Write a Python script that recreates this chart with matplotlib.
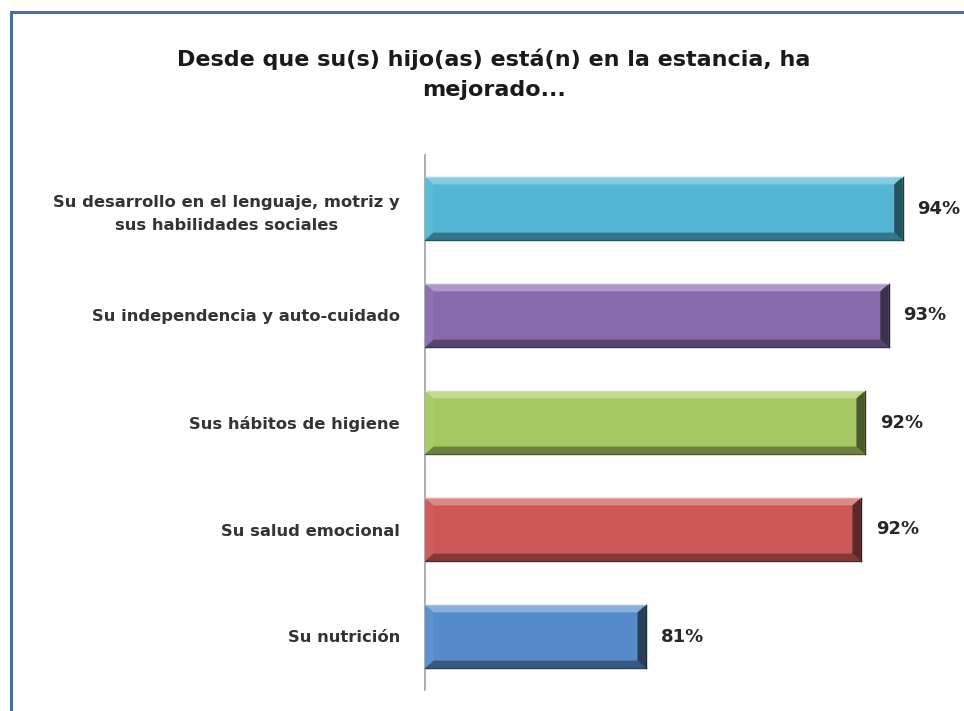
"""
Horizontal bar chart: improvements since the child entered the estancia.
"""
import numpy as np
import matplotlib.pyplot as plt
from matplotlib.patches import Polygon, Rectangle
from matplotlib.colors import to_rgb

plt.rcParams['font.family'] = ['DejaVu Sans']

# data
categories = ['Su desarrollo en el lenguaje, motriz y\nsus habilidades sociales',
              'Su independencia y auto-cuidado',
              'Sus hábitos de higiene',
              'Su salud emocional',
              'Su nutrición']
values = [94.0, 93.3, 92.1, 91.9, 81.1]
labels = ['94%', '93%', '92%', '92%', '81%']
colors = ['#52B6D4', '#886AAC', '#A6C862', '#CD5656', '#558BCB']

title = 'Desde que su(s) hijo(as) está(n) en la estancia, ha\nmejorado...'

W, H = 964, 711
fig = plt.figure(figsize=(W / 100, H / 100), dpi=100)

# outer frame (cut off on the right and bottom)
fig.patches.append(Rectangle((11 / W, -0.05), 1.1, (H - 12) / H + 0.05,
                             transform=fig.transFigure, fill=False,
                             edgecolor='#4A6EA3', linewidth=2.2))

ax = fig.add_axes([425 / W, 21 / H, (W - 425) / W, 535 / H])

xmin, xmax = 70, 70 + (W - 425) / 19.9
y = np.arange(len(categories))
bar_h = 0.59


def shade(c, f):
    r, g, b = to_rgb(c)
    if f > 1:
        return tuple(min(1, v + (1 - v) * (f - 1)) for v in (r, g, b))
    return tuple(v * f for v in (r, g, b))


bars = ax.barh(y, [v - xmin for v in values], left=xmin, height=bar_h,
               color=colors, edgecolor='none', zorder=2)

# bevel edges
bx = 0.42
by = 0.07
for i, (v, c) in enumerate(zip(values, colors)):
    x0, x1 = xmin, v
    y0, y1 = i + bar_h / 2, i - bar_h / 2  # y0 bottom (inverted), y1 top
    top = [(x0, y1), (x1, y1), (x1 - bx, y1 + by), (x0 + bx, y1 + by)]
    bot = [(x0, y0), (x1, y0), (x1 - bx, y0 - by), (x0 + bx, y0 - by)]
    right = [(x1, y1), (x1, y0), (x1 - bx, y0 - by), (x1 - bx, y1 + by)]
    left = [(x0, y1), (x0, y0), (x0 + bx, y0 - by), (x0 + bx, y1 + by)]
    ax.add_patch(Polygon(top, closed=True, color=shade(c, 1.3), lw=0, zorder=3))
    ax.add_patch(Polygon(bot, closed=True, color=shade(c, 0.65), lw=0, zorder=3))
    ax.add_patch(Polygon(right, closed=True, color=shade(c, 0.45), lw=0, zorder=4))
    ax.add_patch(Polygon(left, closed=True, color=shade(c, 1.05), lw=0, zorder=3))
    ax.plot([x0, x1], [y1, y1], color=shade(c, 1.45), lw=1, zorder=5)
    ax.plot([x0, x1], [y0, y0], color=shade(c, 0.45), lw=1, zorder=5)
    ax.plot([x1, x1], [y1, y0], color=shade(c, 0.3), lw=1, zorder=5)
    ax.text(v + 0.75, i, labels[i], va='center', ha='left', fontsize=13,
            fontweight='bold', color='#262626')

ax.set_xlim(xmin, xmax)
ax.set_ylim(len(categories) - 0.5, -0.5)
ax.set_yticks(y)
ax.set_yticklabels(categories, fontsize=11.8, fontweight='bold', color='#333333',
                   ha='right', multialignment='center', linespacing=1.7)
ax.tick_params(axis='y', length=0, pad=18)
ax.set_xticks([])
for s in ['top', 'right', 'bottom']:
    ax.spines[s].set_visible(False)
ax.spines['left'].set_color('#A0A0A0')
ax.spines['left'].set_linewidth(1.2)

fig.text(494 / W, 1 - 74 / H, title, ha='center', va='center', fontsize=16,
         fontweight='bold', color='#1A1A1A', linespacing=1.6)

fig.savefig('out.png', dpi=100)
